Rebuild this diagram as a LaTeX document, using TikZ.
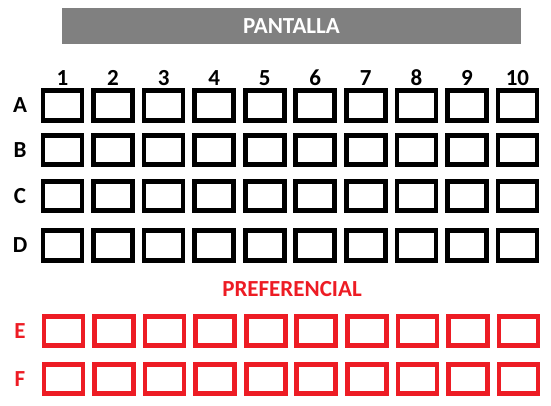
\documentclass[tikz,border=0pt]{standalone}
\usepackage{fontspec}
\setmainfont{Carlito}
\definecolor{seatred}{HTML}{ED1C24}
\definecolor{bargray}{HTML}{808080}
\begin{document}
\begin{tikzpicture}[x=1pt,y=-1pt,
  seat/.style={draw=black,line width=4.7pt,minimum width=39pt,minimum height=29.5pt,inner sep=0pt,outer sep=0pt},
  pseat/.style={seat,draw=seatred},
  lbl/.style={font=\fontsize{23}{23}\selectfont\bfseries,inner sep=0pt},
  plbl/.style={lbl,text=seatred}]
\useasboundingbox (0,0) rectangle (551,405);
\node[fill=bargray,minimum width=459pt,minimum height=36pt,inner sep=0pt] (bar) at (291.5,26) {};
\node[lbl,text=white] (pantalla) at (bar.center) {PANTALLA};
\foreach \c in {1,...,10} {
  \node[lbl] (n\c) at ({62.5+50.55*(\c-1)},78) {\c};
}
\foreach \r/\y in {A/105.5,B/150,C/196,D/245.5} {
  \node[lbl] (l\r) at (20,\y) {\r};
  \foreach \c in {1,...,10} {
    \node[seat] (s\r\c) at ({62.5+50.55*(\c-1)},\y) {};
  }
}
\node[plbl] (pref) at (292,289) {PREFERENCIAL};
\foreach \r/\y in {E/331,F/379} {
  \node[plbl] (l\r) at (20,\y) {\r};
  \foreach \c in {1,...,10} {
    \node[pseat] (s\r\c) at ({63.5+50.55*(\c-1)},\y) {};
  }
}
\end{tikzpicture}
\end{document}
